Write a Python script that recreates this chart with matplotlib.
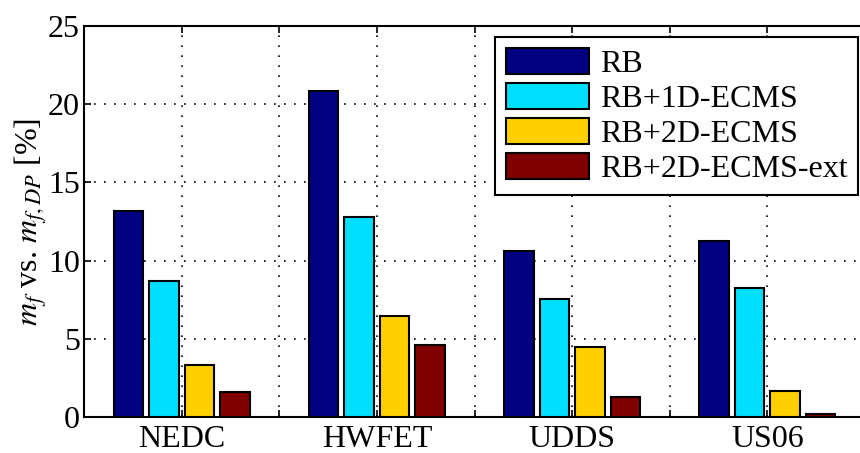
import matplotlib
matplotlib.use("Agg")
import matplotlib.pyplot as plt
import numpy as np

categories = ["NEDC", "HWFET", "UDDS", "US06"]
series_names = ["RB", "RB+1D-ECMS", "RB+2D-ECMS", "RB+2D-ECMS-ext"]
rb = [13.2, 20.86, 10.63, 11.27]
rb_1d = [8.68, 12.77, 7.57, 8.23]
rb_2d = [3.35, 6.48, 4.50, 1.66]
rb_2d_ext = [1.58, 4.58, 1.30, 0.17]
series = [rb, rb_1d, rb_2d, rb_2d_ext]
colors = ["#000080", "#00DFFF", "#FFCF00", "#800000"]

plt.rcParams["font.family"] = ["Liberation Serif", "DejaVu Serif"]
plt.rcParams["mathtext.fontset"] = "stix"

fig = plt.figure(figsize=(8.6, 4.53), dpi=100)
ax = fig.add_axes([84/860, 36/453, 781/860, 391/453])

x = np.arange(1, len(categories) + 1)
spacing = 0.182
width = 0.151
for i, (vals, name, c) in enumerate(zip(series, series_names, colors)):
    ax.bar(x + (i - 1.5) * spacing, vals, width, color=c, edgecolor="black",
           linewidth=1.5, label=name, zorder=3)

ax.set_xlim(0.5, 4.5)
ax.set_ylim(0, 25)
xt = np.arange(1, 4.01, 0.5)
ax.set_xticks(xt)
ax.set_xticklabels([categories[int(t) - 1] if t == int(t) else "" for t in xt])
ax.set_yticks([0, 5, 10, 15, 20, 25])
ax.tick_params(direction="in", length=5, width=1.2, labelsize=23, top=True, right=False)
ax.tick_params(axis="y", pad=3)
ax.tick_params(axis="x", pad=6)
ax.grid(True, linestyle=(0, (1, 5)), color="black", linewidth=1.2, zorder=1)
for s in ax.spines.values():
    s.set_linewidth(1.5)
ax.spines["right"].set_visible(False)
ax.set_ylabel(r"$m_f$ vs. $m_{f,DP}$ [%]", fontsize=23, labelpad=-1)

leg = ax.legend(loc="upper right", bbox_to_anchor=(858/860, 1 - 37/453),
                bbox_transform=fig.transFigure, fontsize=23, frameon=True,
                fancybox=False, edgecolor="black", borderaxespad=0,
                handlelength=2.6, handleheight=0.9, labelspacing=0.12,
                handletextpad=0.35, borderpad=0.33)
leg.get_frame().set_linewidth(1.5)
leg.get_frame().set_alpha(1)

fig.savefig("out.png", dpi=100)
